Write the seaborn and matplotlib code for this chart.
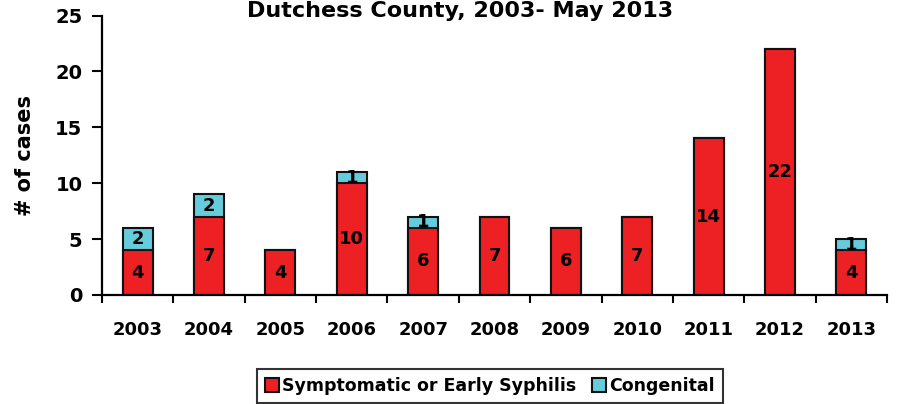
import numpy as np
import pandas as pd
import matplotlib
matplotlib.use('Agg')
import matplotlib.pyplot as plt
import seaborn as sns

# ----------------------------------------------------------------------
# data
# ----------------------------------------------------------------------
YEARS = ['2003', '2004', '2005', '2006', '2007', '2008',
         '2009', '2010', '2011', '2012', '2013']
SYMPTOMATIC = [4, 7, 4, 10, 6, 7, 6, 7, 14, 22, 4]
CONGENITAL = [2, 2, 0, 1, 1, 0, 0, 0, 0, 0, 1]

TITLE = 'Dutchess County, 2003- May 2013'
Y_LABEL = '# of cases'
SERIES_NAMES = ['Symptomatic or Early Syphilis', 'Congenital']

RED = '#ED2024'
CYAN = '#66CCDC'
EDGE = '#111111'

df = pd.DataFrame({'year': YEARS, 'sym': SYMPTOMATIC, 'cong': CONGENITAL})
df['total'] = df['sym'] + df['cong']

sns.set_style('ticks')
plt.rcParams['font.family'] = ['DejaVu Sans']
plt.rcParams['font.weight'] = 'bold'
plt.rcParams['text.color'] = 'black'
plt.rcParams['axes.labelcolor'] = 'black'
plt.rcParams['xtick.color'] = 'black'
plt.rcParams['ytick.color'] = 'black'

fig = plt.figure(figsize=(8.97, 4.04), dpi=100)
ax = fig.add_axes([102 / 897, 1 - 295 / 404, 785 / 897, 279.5 / 404])

# stacked bars: totals (congenital on top) drawn first, symptomatic over them
sns.barplot(data=df, x='year', y='total', color=CYAN, saturation=1,
            width=0.42, edgecolor=EDGE, linewidth=1.5, errorbar=None,
            label=SERIES_NAMES[1], ax=ax)
sns.barplot(data=df, x='year', y='sym', color=RED, saturation=1,
            width=0.42, edgecolor=EDGE, linewidth=1.5, errorbar=None,
            label=SERIES_NAMES[0], ax=ax)
if ax.get_legend() is not None:
    ax.get_legend().remove()

# value labels
red_bars = ax.containers[1]
ax.bar_label(red_bars, labels=[str(v) for v in SYMPTOMATIC],
             label_type='center', fontsize=13, fontweight='bold')
for i, (s, c) in enumerate(zip(SYMPTOMATIC, CONGENITAL)):
    if c > 0:
        ax.text(i, s + c / 2, str(c), ha='center', va='center',
                fontsize=13, fontweight='bold')

# axes styling
ax.set_ylim(0, 25)
ax.set_xlim(-0.5, len(YEARS) - 0.5)
ax.set_yticks(range(0, 26, 5))
ax.set_xticks(np.arange(-0.5, len(YEARS), 1), minor=True)
sns.despine(ax=ax)
for sp in ['left', 'bottom']:
    ax.spines[sp].set_linewidth(1.6)
    ax.spines[sp].set_color('black')

ax.tick_params(axis='y', length=7, width=1.5, pad=7, labelsize=14)
ax.tick_params(axis='x', which='major', length=0, pad=19, labelsize=13)
ax.tick_params(axis='x', which='minor', length=6, width=1.5)
for lab in ax.get_xticklabels() + ax.get_yticklabels():
    lab.set_fontweight('bold')

ax.set_xlabel('')
ax.set_ylabel(Y_LABEL, fontsize=15, fontweight='bold', va='center')
ax.yaxis.set_label_coords(-0.098, 0.5)

# title at the very top
fig.text(460 / 897, 1 - 1 / 404, TITLE, ha='center', va='top',
         fontsize=16, fontweight='bold')

# legend
handles, labels = ax.get_legend_handles_labels()
order = [labels.index(n) for n in SERIES_NAMES]
leg = fig.legend([handles[i] for i in order], [labels[i] for i in order],
                 loc='center', bbox_to_anchor=(490 / 897, 1 - 386 / 404),
                 ncol=2, frameon=True, fancybox=False, handlelength=0.8,
                 handleheight=0.8, handletextpad=0.2, columnspacing=0.9,
                 borderpad=0.45, prop={'family': 'DejaVu Sans',
                                       'weight': 'bold', 'size': 12.5})
leg.get_frame().set_edgecolor('black')
leg.get_frame().set_linewidth(1.5)

fig.savefig('out.png', dpi=100)
